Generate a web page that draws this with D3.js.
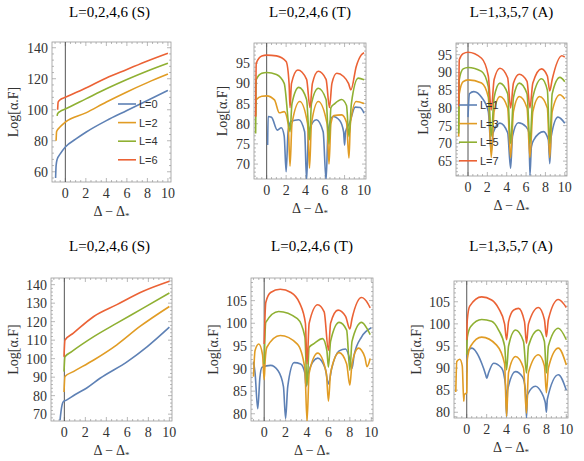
<!DOCTYPE html>
<html><head><meta charset="utf-8">
<script src="https://cdn.jsdelivr.net/npm/d3@7"></script>
<style>body{margin:0;background:#fff}text{font-family:"Liberation Serif",serif}</style>
</head><body>
<script>
// colours for the four L curves (Mathematica default palette)
var colors = ["#5E81B5", "#E19C24", "#8FB032", "#EB6235"];

// top row data: [x, y] points
var sTop = [
  [[-0.95,56],[-0.9,64],[-0.8,68],[-0.5,71.5],[0,76],[1,81],[2,85.5],[4,93],[6,99.5],[8,106],[10,112.5]],
  [[-0.9,80],[-0.85,86],[-0.5,89],[0,92],[2,98],[4,105],[6,111.5],[8,117.5],[10,123]],
  [[-0.8,96],[-0.75,97.5],[-0.5,99],[0,100.5],[2,107],[4,113.5],[6,119.5],[8,125],[10,130]],
  [[-0.75,100],[-0.7,105],[-0.5,106.5],[0,108],[2,114],[4,120.5],[6,126],[8,131.5],[10,136.5]]
];
var tTop = [
  [[0.1,74.7],[0.15,81.8],[0.5,81.6],[1.1,78.4],[1.5,79],[1.8,77],[2,68.1],[2.2,78],[2.5,80.6],[3.3,81],[3.9,78],[4.1,66],[4.3,78],[5.1,81],[5.8,78],[6.1,66],[6.3,78],[6.8,81.8],[7.5,80.8],[7.9,78],[8,74.7],[8.1,78],[8.5,80.1],[9.1,84.1],[9.6,84],[10,82.6]],
  [[-1.13,82],[-1.05,86],[-0.5,86.8],[0,86.9],[0.8,85.9],[1.3,82.7],[1.8,83],[2.2,80],[2.4,69.5],[2.6,80],[3.4,85.5],[4.2,80],[4.4,69],[4.6,80],[5.3,85.5],[6.2,80],[6.4,70],[6.6,80],[6.9,82],[7.7,82.2],[8.2,80.3],[8.45,71.5],[8.6,80],[9.2,85.5],[10,85]],
  [[-1.13,77.6],[-1.07,90.9],[-0.5,92.5],[0,92.7],[1,92.2],[1.8,90],[2.4,78],[2.6,85],[3.3,89],[4.1,86],[4.4,76],[4.6,85],[5.3,88.8],[6.1,86],[6.4,75],[6.6,84],[7,85],[7.7,86],[8.2,84.5],[8.45,76.8],[8.7,85],[9.4,91.3],[10,90.9]],
  [[-1.13,81.7],[-1.07,95],[-0.5,96.8],[0,97],[1,96.8],[2,95.4],[2.3,90],[2.4,84],[2.55,90],[3.2,93.3],[4.1,91],[4.45,84],[4.7,90],[5.3,93],[6.1,91],[6.45,84],[6.7,90],[7.2,92.5],[7.9,91.7],[8.4,90],[8.65,88.4],[9.2,94.2],[9.7,97],[10,97.6]]
];
var aTop = [
  [[0,77.4],[0.15,84],[0.6,84.6],[1.4,83],[2.1,79],[2.4,67.6],[2.6,73],[3.3,75.7],[4.1,73],[4.4,63],[4.6,72],[5.2,75.8],[6,74.7],[6.3,73],[6.4,61],[6.55,69],[6.8,71],[7.8,73.3],[8.3,71],[8.45,64.3],[8.6,72],[9.3,77.4],[10,75.7]],
  [[-0.96,71.9],[-0.9,84],[-0.5,87.4],[0,87.9],[1.4,87],[2.1,83],[2.4,66],[2.7,79],[3.3,83.2],[4.1,80],[4.4,66],[4.7,79],[5.3,83.2],[6.1,80],[6.4,66],[6.7,79],[7.4,83.2],[8.2,80],[8.45,66],[8.7,79],[9.5,83.7],[10,82.5]],
  [[-0.96,72.8],[-0.9,88],[-0.5,91],[0,91.4],[1.4,90.3],[2.1,86],[2.4,72],[2.7,83],[3.3,87],[4.1,84],[4.4,70],[4.7,83],[5.3,87],[6.1,84],[6.4,70],[6.7,83],[7.6,88.2],[8.2,85],[8.45,70],[8.7,84],[9.5,88.6],[10,87.4]],
  [[-0.96,80.4],[-0.9,93.6],[-0.5,95.3],[0,95.7],[1.4,94],[2.1,89],[2.4,79.4],[2.7,88],[3.3,91.2],[4.1,88.5],[4.4,80],[4.7,87],[5.3,89.5],[6.1,87.5],[6.4,80],[6.7,87],[7.6,91],[8.2,89],[8.45,84.8],[8.7,88],[9.7,94.7],[10,94.3]]
];
// bottom row data
var sBot = [
  [[-0.41,66.7],[-0.3,72.2],[-0.1,76.7],[0.2,77.6],[1,80.5],[2.1,84],[3.4,89.4],[6,98.4],[7.9,106.5],[10,117]],
  [[-0.03,82],[0.06,90.3],[0.86,93],[2.8,99.3],[5,107.5],[7.2,117.4],[10,128.2]],
  [[-0.03,93],[0.06,101],[0.7,103.8],[2.8,111.9],[5,119.2],[7.5,127.3],[10,135.5]],
  [[-0.03,101],[0.06,110],[0.86,113.8],[2.8,122.8],[5,129.2],[7.5,136.4],[10,141.8]]
];
var tBot = [
  [[-1,91.5],[-0.85,89],[-0.6,81.1],[-0.4,88],[-0.2,90.3],[0.6,90.7],[1.3,89.5],[1.8,86],[2,79],[2.2,86],[2.8,91.3],[3.4,91],[3.8,89],[3.9,86],[4.1,89],[5,92.3],[5.7,90],[6,86.6],[6.3,90],[7,93.9],[7.6,94.3],[8,92],[8.2,90],[8.4,93],[9.1,97],[10,99]],
  [[-1,88.2],[-0.85,94],[-0.5,95.4],[-0.15,93],[0,87.5],[0.1,92],[0.25,94.7],[1.5,97.3],[3.1,95.4],[3.8,90],[4,78.4],[4.2,89],[5,93.4],[5.8,89],[6,82.8],[6.2,89],[7,93.5],[7.7,91],[8,86.3],[8.2,91],[8.8,94.5],[9.4,92.5],[9.6,90.4],[9.9,92.2]],
  [[0,91],[0.15,100.2],[1.35,102.6],[3.1,101],[3.8,97],[4,86.3],[4.2,94.7],[4.65,95.5],[5.45,96.6],[5.85,94],[6,90.3],[6.2,96],[7,100.2],[7.7,98.5],[8,89.6],[8.2,96],[9.1,100.2],[9.7,98.4],[9.9,97.5]],
  [[0,95.4],[0.15,104.6],[0.6,106.8],[1.5,107.5],[2.5,106.8],[3.3,104.5],[3.85,100],[4,91],[4.2,100],[5,104.1],[5.6,102.5],[6,94],[6.2,100],[6.9,102.9],[7.6,101.5],[8,98.75],[8.2,101],[9.1,105.7],[9.7,104.3],[9.9,103.4]]
];
var aBot = [
  [[0,89],[0.06,93.7],[0.5,94.5],[1.5,91.1],[1.9,88.5],[2,87.7],[2.2,89],[2.7,91.1],[3.5,90],[3.9,86],[4,79],[4.1,85],[4.9,89.2],[5.6,88],[5.9,85],[6,78.7],[6.1,84],[6.9,85.9],[7.5,84.5],[7.8,82.9],[7.9,82],[8,80],[8.1,83],[9.2,88.5],[10,85]],
  [[-1.1,84.6],[-1,91.5],[-0.7,92],[-0.45,90.5],[-0.3,82.5],[-0.25,84],[0,84.4],[0.06,92],[0.4,95],[1.5,97],[3,95.2],[3.8,91],[4,79.1],[4.2,89],[4.9,92.6],[5.7,90],[6,79.8],[6.2,89],[7.2,93],[7.8,90.5],[8,84.4],[8.2,90],[9.2,94.5],[10,90.7]],
  [[0,93],[0.06,97],[0.4,99.4],[1.5,101],[2.5,100.6],[3.2,98.6],[3.8,95],[4,89.6],[4.2,95],[4.9,98.6],[5.7,96],[6,88.9],[6.2,95],[7.2,98.6],[7.8,96],[8,88.9],[8.2,95],[9.2,99],[10,96.4]],
  [[0,96.4],[0.06,101],[0.3,104],[1.5,106.1],[2.5,105.4],[3.2,103.5],[3.8,100],[4,96.4],[4.2,100.5],[4.7,103.1],[5.2,103.5],[5.8,100.5],[6,95.6],[6.2,100],[7.2,103.7],[7.8,101],[8,97.1],[8.2,101],[9.2,105.5],[10,103.7]]
];
var titles = ["L=0,2,4,6 (S)", "L=0,2,4,6 (T)", "L=1,3,5,7 (A)", "L=0,2,4,6 (S)", "L=0,2,4,6 (T)", "L=1,3,5,7 (A)"];
var legendS = ["L=0", "L=2", "L=4", "L=6"];
var legendA = ["L=1", "L=3", "L=5", "L=7"];
var xTicks = [0, 2, 4, 6, 8, 10];

var panels = [
  {data: sTop, x0: 52, x1: 171, y0: 42, y1: 182, xd: [-1.3, 10.3], yd: [53.4, 143.7], yt: [60, 80, 100, 120, 140], ty: 17, lx: 18, legend: legendS, lg: [118, 104]},
  {data: tTop, x0: 254, x1: 366, y0: 43, y1: 179, xd: [-1.3, 10.2], yd: [66.3, 100], yt: [70, 75, 80, 85, 90, 95], ty: 17, lx: 227},
  {data: aTop, x0: 456, x1: 567, y0: 43, y1: 176, xd: [-1.24, 10.23], yd: [60.8, 98.3], yt: [65, 70, 75, 80, 85, 90, 95], ty: 17, lx: 428, legend: legendA, lg: [459, 105]},
  {data: sBot, x0: 51, x1: 172, y0: 278, y1: 421, xd: [-1.27, 10.25], yd: [66.3, 143.6], yt: [70, 80, 90, 100, 110, 120, 130, 140], ty: 251, lx: 18},
  {data: tBot, x0: 251, x1: 373, y0: 278, y1: 421, xd: [-1.23, 10.16], yd: [78.4, 110], yt: [80, 85, 90, 95, 100, 105], ty: 251, lx: 218},
  {data: aBot, x0: 454, x1: 568, y0: 281, y1: 418, xd: [-1.28, 10.17], yd: [78.7, 109.7], yt: [80, 85, 90, 95, 100, 105], ty: 251, lx: 421}
];

var svg = d3.select("body").append("svg").attr("width", 584).attr("height", 461);

panels.forEach(function(p, k) {
  var x = d3.scaleLinear().domain(p.xd).range([p.x0, p.x1]);
  var y = d3.scaleLinear().domain(p.yd).range([p.y1, p.y0]);
  var g = svg.append("g");

  svg.append("clipPath").attr("id", "clip" + k).append("rect")
    .attr("x", p.x0).attr("y", p.y0).attr("width", p.x1 - p.x0).attr("height", p.y1 - p.y0);

  // minor + major ticks, inside the frame (mathematica style)
  var xMinor = d3.range(-1, 10.01, 0.5), yStep = p.yt[1] - p.yt[0];
  var yMinor = d3.range(p.yt[0] - yStep, p.yd[1], yStep / 5).filter(function(v) { return v >= p.yd[0] && v <= p.yd[1]; });
  [["bottom", p.y1, -1], ["top", p.y0, 1]].forEach(function(s) {
    g.selectAll(null).data(xMinor).enter().append("line")
      .attr("x1", x).attr("x2", x).attr("y1", s[1])
      .attr("y2", function(d) { return s[1] + s[2] * (xTicks.indexOf(d) >= 0 ? 4 : 2); })
      .attr("stroke", "#999").attr("stroke-width", 0.7);
  });
  [[p.x0, 1], [p.x1, -1]].forEach(function(s) {
    g.selectAll(null).data(yMinor).enter().append("line")
      .attr("y1", y).attr("y2", y).attr("x1", s[0])
      .attr("x2", function(d) { return s[0] + s[1] * (Math.abs(d % yStep) < 1e-6 ? 4 : 2); })
      .attr("stroke", "#999").attr("stroke-width", 0.7);
  });

  g.selectAll(null).data(xTicks).enter().append("text")
    .attr("x", x).attr("y", p.y1 + 16).attr("text-anchor", "middle")
    .attr("font-size", 14).attr("fill", "#333").text(function(d) { return d; });
  g.selectAll(null).data(p.yt).enter().append("text")
    .attr("x", p.x0 - 4).attr("y", function(d) { return y(d) + 5; }).attr("text-anchor", "end")
    .attr("font-size", 14).attr("fill", "#333").text(function(d) { return d; });

  var line = d3.line().x(function(d) { return x(d[0]); }).y(function(d) { return y(d[1]); })
    .curve(d3.curveMonotoneX);
  var curves = svg.append("g").attr("clip-path", "url(#clip" + k + ")");
  curves.append("line").attr("x1", x(0)).attr("x2", x(0)).attr("y1", p.y0).attr("y2", p.y1)
    .attr("stroke", "#555").attr("stroke-width", 1);
  curves.selectAll("path").data(p.data).enter().append("path")
    .attr("d", line).attr("fill", "none")
    .attr("stroke", function(d, i) { return colors[i]; }).attr("stroke-width", 1.6);

  g.append("rect").attr("x", p.x0).attr("y", p.y0).attr("width", p.x1 - p.x0).attr("height", p.y1 - p.y0)
    .attr("fill", "none").attr("stroke", "#999").attr("stroke-width", 0.8);

  if (p.legend) {
    var lg = svg.append("g");
    p.legend.forEach(function(t, i) {
      var yy = p.lg[1] + i * 18.6;
      lg.append("line").attr("x1", p.lg[0]).attr("x2", p.lg[0] + 18).attr("y1", yy).attr("y2", yy)
        .attr("stroke", colors[i]).attr("stroke-width", 1.6);
      lg.append("text").attr("x", p.lg[0] + 21).attr("y", yy + 4).attr("font-size", 11)
        .style("font-family", "'Liberation Sans', sans-serif").attr("fill", "#333").text(t);
    });
  }

  svg.append("text").attr("x", (p.x0 + p.x1) / 2 + (k % 3 == 0 ? -2 : 0)).attr("y", p.ty)
    .attr("text-anchor", "middle").attr("font-size", 15).text(titles[k]);
  svg.append("text").attr("x", (p.x0 + p.x1) / 2).attr("y", p.y1 + 34)
    .attr("text-anchor", "middle").attr("font-size", 14).attr("fill", "#333")
    .html("Δ − Δ<tspan font-size='9' dy='3'>*</tspan>");
  svg.append("text").attr("transform", "translate(" + p.lx + "," + (p.y0 + p.y1) / 2 + ") rotate(-90)")
    .attr("text-anchor", "middle").attr("font-size", 14).attr("fill", "#333").text("Log[α.F]");
});
</script>
</body></html>
